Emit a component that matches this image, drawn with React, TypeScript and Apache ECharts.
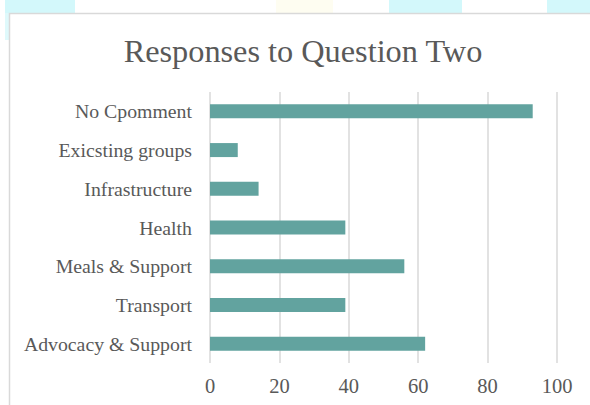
import React, { useEffect, useRef } from "react";
import * as echarts from "echarts";

const categories = [
  "No Cpomment",
  "Exicsting groups",
  "Infrastructure",
  "Health",
  "Meals & Support",
  "Transport",
  "Advocacy & Support",
];
const values = [93, 8, 14, 39, 56, 39, 62];
const titleText = "Responses to Question Two";

const FONT = "'Liberation Serif', serif";

export default function App() {
  const ref = useRef<HTMLDivElement>(null);
  useEffect(() => {
    document.body.style.margin = "0";
    const chart = echarts.init(ref.current!, null, { renderer: "svg" });
    chart.setOption({
      animation: false,
      backgroundColor: "#ffffff",
      title: {
        text: titleText,
        left: 298,
        textAlign: "center",
        top: 30,
        textStyle: { fontFamily: FONT, fontSize: 32.3, fontWeight: "normal", color: "#595959" },
      },
      graphic: [
        { type: "rect", z: -10, shape: { x: 5, y: 0, width: 70, height: 13 }, style: { fill: "#d3f8fb" } },
        { type: "rect", z: -10, shape: { x: 5, y: 13, width: 4, height: 27 }, style: { fill: "#dff9fb" } },
        { type: "rect", z: -10, shape: { x: 276, y: 0, width: 57, height: 13 }, style: { fill: "#fefdf1" } },
        { type: "rect", z: -10, shape: { x: 389, y: 0, width: 73, height: 13 }, style: { fill: "#d3f8fb" } },
        { type: "rect", z: -10, shape: { x: 547, y: 0, width: 43, height: 13 }, style: { fill: "#d3f8fb" } },
        {
          type: "rect",
          z: -9,
          shape: { x: 9.5, y: 13.5, width: 620, height: 420 },
          style: { fill: "#ffffff", stroke: "#d9d9d9", lineWidth: 1.5 },
        },
      ],
      grid: { left: 210, right: 33, top: 92, bottom: 42, containLabel: false },
      xAxis: {
        type: "value",
        min: 0,
        max: 100,
        interval: 20,
        axisLine: { show: false },
        axisTick: { show: false },
        splitLine: { show: true, lineStyle: { color: "#d9d9d9", width: 1.5 } },
        axisLabel: { fontFamily: FONT, fontSize: 20.5, color: "#595959", margin: 12 },
      },
      yAxis: {
        type: "category",
        data: categories,
        inverse: true,
        axisLine: { show: false },
        axisTick: { show: false },
        axisLabel: { fontFamily: FONT, fontSize: 19.8, color: "#595959", margin: 18 },
      },
      series: [
        {
          type: "bar",
          data: values,
          barWidth: 14,
          itemStyle: { color: "#62a39f" },
        },
      ],
    });
    return () => chart.dispose();
  }, []);
  return <div ref={ref} style={{ position: "fixed", left: 0, top: 0, width: 590, height: 405 }} />;
}
